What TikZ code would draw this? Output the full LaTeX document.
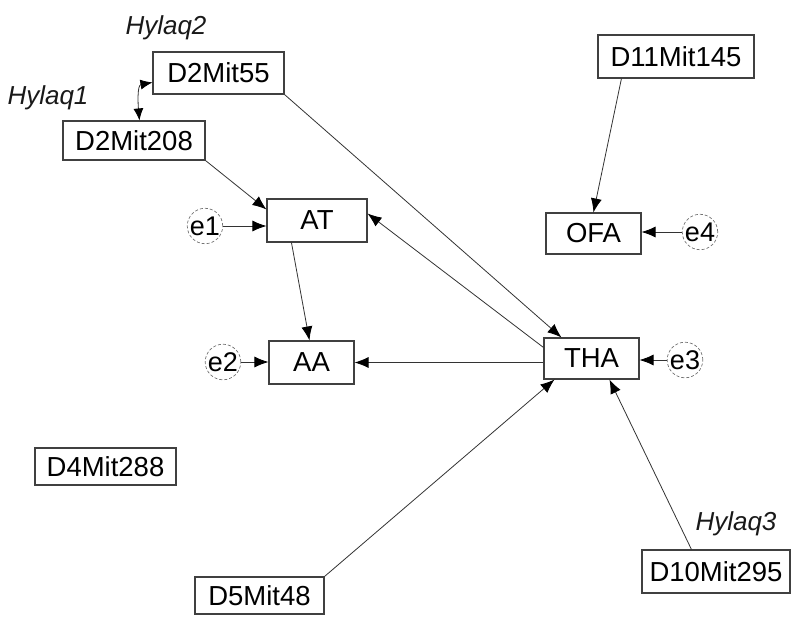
\documentclass[tikz,border=0pt]{standalone}
\usepackage{fontspec}
\setmainfont{Liberation Sans}
\usetikzlibrary{arrows.meta,calc}
\tikzset{
  box/.style={draw=black!75, line width=1.1pt, fill=white, inner sep=0pt, font=\fontsize{27.5}{29}\selectfont},
  err/.style={circle, draw=black!55, densely dashed, line width=0.7pt, minimum size=28pt, inner sep=0pt, font=\fontsize{27}{29}\selectfont},
  lbl/.style={font=\fontsize{26}{28}\selectfont\itshape, text=black!90},
  arr/.style={draw=black!80, line width=0.8pt, -{Latex[length=14pt,width=11pt,color=black]}},
  darr/.style={draw=black!80, line width=0.8pt, {Latex[length=12pt,width=10pt,color=black]}-{Latex[length=12pt,width=10pt,color=black]}}
}
\begin{document}
\begin{tikzpicture}[x=1pt,y=-1pt]
\useasboundingbox (0,0) rectangle (792,616);
% observed variables
\node[box, minimum width=131pt, minimum height=42pt] (D2Mit55) at (218.5,73) {D2Mit55};
\node[box, minimum width=142pt, minimum height=39pt] (D2Mit208) at (134,140.5) {D2Mit208};
\node[box, minimum width=156pt, minimum height=43pt] (D11Mit145) at (676,56.5) {D11Mit145};
\node[box, minimum width=100pt, minimum height=43pt] (AT) at (317,220.5) {AT};
\node[box, minimum width=95pt, minimum height=41pt] (OFA) at (593.5,233.5) {OFA};
\node[box, minimum width=85pt, minimum height=43pt] (AA) at (311.5,362.5) {AA};
\node[box, minimum width=95pt, minimum height=41pt] (THA) at (591.5,358.5) {THA};
\node[box, minimum width=141pt, minimum height=37pt] (D4Mit288) at (105.5,466.5) {D4Mit288};
\node[box, minimum width=129pt, minimum height=37pt] (D5Mit48) at (259.5,595.5) {D5Mit48};
\node[box, minimum width=148pt, minimum height=43pt] (D10Mit295) at (716,571.5) {D10Mit295};
% error terms
\node[err] (e1) at (205,226) {e1};
\node[err] (e2) at (223,362) {e2};
\node[err] (e3) at (685,360) {e3};
\node[err] (e4) at (700,232) {e4};
% labels
\node[lbl] (h2) at (166,28) {Hylaq2};
\node[lbl] (h1) at (48,98) {Hylaq1};
\node[lbl] (h3) at (736,524) {Hylaq3};
% connectors
\draw[darr] ($(D2Mit208.north west)+(77,0)$) to[out=95,in=190] ($(D2Mit55.north west)+(0,31)$);
\draw[arr] (D2Mit55.south east) -- ($(THA.north west)+(18,0)$);
\draw[arr] (D2Mit208.south east) -- ($(AT.north west)+(0,11)$);
\draw[arr] (e1) -- (e1 -| AT.west);
\draw[arr] ($(AT.south west)+(25,0)$) -- ($(AA.north west)+(41,0)$);
\draw[arr] ($(THA.north west)+(0,10)$) -- ($(AT.east)+(0,-7)$);
\draw[arr] (AA.east -| THA.west) -- (AA.east);
\draw[arr] (e2) -- (e2 -| AA.west);
\draw[arr] (e3) -- (e3 -| THA.east);
\draw[arr] (e4) -- (e4 -| OFA.east);
\draw[arr] ($(D11Mit145.south west)+(24,0)$) -- ($(OFA.north west)+(48,0)$);
\draw[arr] (D5Mit48.north east) -- ($(THA.south west)+(11,0)$);
\draw[arr] ($(D10Mit295.north west)+(50,0)$) -- ($(THA.south west)+(66,0)$);
\end{tikzpicture}
\end{document}
